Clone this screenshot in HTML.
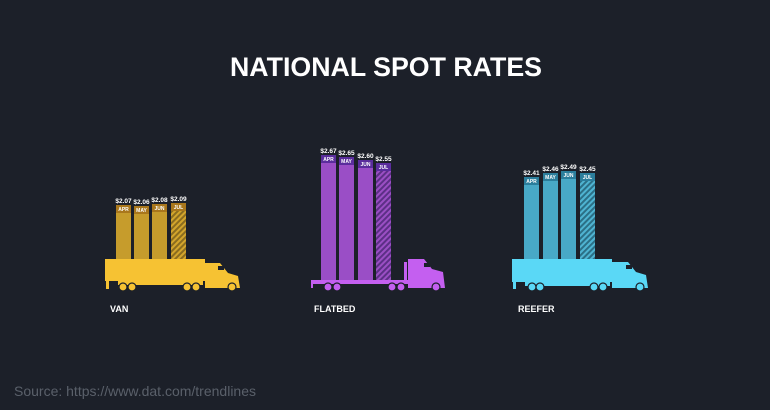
<!DOCTYPE html>
<html><head><meta charset="utf-8"><style>
body{margin:0;background:#1c2029;}
svg{display:block}
text{font-family:"Liberation Sans",sans-serif;}
</style></head><body>
<svg width="770" height="410" viewBox="0 0 770 410" xmlns="http://www.w3.org/2000/svg">
<defs>
<pattern id="hv" width="4" height="4" patternUnits="userSpaceOnUse" patternTransform="rotate(45)"><rect width="4" height="4" fill="#8a6c1f"/><rect width="2" height="4" fill="#d3a52c"/></pattern>
<pattern id="hf" width="4" height="4" patternUnits="userSpaceOnUse" patternTransform="rotate(45)"><rect width="4" height="4" fill="#5c2f86"/><rect width="2" height="4" fill="#9b4fc4"/></pattern>
<pattern id="hr" width="4" height="4" patternUnits="userSpaceOnUse" patternTransform="rotate(45)"><rect width="4" height="4" fill="#2b6f86"/><rect width="2" height="4" fill="#4fb4d2"/></pattern>
</defs>
<rect width="770" height="410" fill="#1c2029"/>
<text x="386" y="76" text-anchor="middle" fill="#fff" font-size="27" font-weight="bold" textLength="312" lengthAdjust="spacingAndGlyphs">NATIONAL SPOT RATES</text>

<!-- VAN -->
<g font-size="6.5" font-weight="bold" fill="#fff" text-anchor="middle">
<rect x="116" y="205" width="15" height="55" fill="#c69c2c"/><rect x="116" y="205" width="15" height="8" fill="#a9771c"/>
<rect x="134" y="206" width="15" height="54" fill="#c69c2c"/><rect x="134" y="206" width="15" height="8" fill="#a9771c"/>
<rect x="152" y="204" width="15" height="56" fill="#c69c2c"/><rect x="152" y="204" width="15" height="8" fill="#a9771c"/>
<rect x="171" y="203" width="15" height="57" fill="url(#hv)"/><rect x="171" y="203" width="15" height="8" fill="#a9771c"/>
<text x="123.5" y="203">$2.07</text><text x="141.5" y="204">$2.06</text><text x="159.5" y="202">$2.08</text><text x="178.5" y="201">$2.09</text>
<text x="123.5" y="211" font-size="5">APR</text><text x="141.5" y="212" font-size="5">MAY</text><text x="159.5" y="210" font-size="5">JUN</text><text x="178.5" y="209" font-size="5">JUL</text>
</g>
<g fill="#f6c233">
<rect x="105" y="259" width="100" height="22"/>
<rect x="106" y="281" width="3" height="8"/>
<path d="M205 263 L220 263 L228 273 L238 276 L240 288 L205 288 Z"/>
<rect x="118" y="281" width="85" height="4"/>
</g>
<rect x="218" y="266" width="6" height="4" fill="#1c2029"/>
<g fill="#f6c233" stroke="#1c2029" stroke-width="1.2">
<circle cx="123" cy="287" r="4"/><circle cx="132" cy="287" r="4"/><circle cx="187" cy="287" r="4"/><circle cx="196" cy="287" r="4"/><circle cx="232" cy="287" r="4"/>
</g>
<text x="110" y="312" fill="#fff" font-size="9" font-weight="bold">VAN</text>

<!-- FLATBED -->
<g font-size="6.5" font-weight="bold" fill="#fff" text-anchor="middle">
<rect x="321" y="155" width="15" height="125" fill="#9a4ec6"/><rect x="321" y="155" width="15" height="8" fill="#5a2d9c"/>
<rect x="339" y="157" width="15" height="123" fill="#9a4ec6"/><rect x="339" y="157" width="15" height="8" fill="#5a2d9c"/>
<rect x="358" y="160" width="15" height="120" fill="#9a4ec6"/><rect x="358" y="160" width="15" height="8" fill="#5a2d9c"/>
<rect x="376" y="163" width="15" height="117" fill="url(#hf)"/><rect x="376" y="163" width="15" height="8" fill="#5a2d9c"/>
<text x="328.5" y="153">$2.67</text><text x="346.5" y="155">$2.65</text><text x="365.5" y="158">$2.60</text><text x="383.5" y="161">$2.55</text>
<text x="328.5" y="161" font-size="5">APR</text><text x="346.5" y="163" font-size="5">MAY</text><text x="365.5" y="166" font-size="5">JUN</text><text x="383.5" y="169" font-size="5">JUL</text>
</g>
<g fill="#c45ff0">
<rect x="311" y="280" width="97" height="4"/>
<rect x="311" y="280" width="2" height="8"/>
<rect x="404" y="262" width="3" height="22"/>
<path d="M408 259 L424 259 L432 269 L443 272 L445 288 L408 288 Z"/>
</g>
<rect x="424" y="263" width="6" height="4" fill="#1c2029"/>
<g fill="#c45ff0" stroke="#1c2029" stroke-width="1.2">
<circle cx="328" cy="287" r="4"/><circle cx="337" cy="287" r="4"/><circle cx="392" cy="287" r="4"/><circle cx="401" cy="287" r="4"/><circle cx="436" cy="287" r="4"/>
</g>
<text x="314" y="312" fill="#fff" font-size="9" font-weight="bold">FLATBED</text>

<!-- REEFER -->
<g font-size="6.5" font-weight="bold" fill="#fff" text-anchor="middle">
<rect x="524" y="177" width="15" height="83" fill="#48a9c7"/><rect x="524" y="177" width="15" height="8" fill="#2b7e9c"/>
<rect x="543" y="173" width="15" height="87" fill="#48a9c7"/><rect x="543" y="173" width="15" height="8" fill="#2b7e9c"/>
<rect x="561" y="171" width="15" height="89" fill="#48a9c7"/><rect x="561" y="171" width="15" height="8" fill="#2b7e9c"/>
<rect x="580" y="173" width="15" height="87" fill="url(#hr)"/><rect x="580" y="173" width="15" height="8" fill="#2b7e9c"/>
<text x="531.5" y="175">$2.41</text><text x="550.5" y="171">$2.46</text><text x="568.5" y="169">$2.49</text><text x="587.5" y="171">$2.45</text>
<text x="531.5" y="183" font-size="5">APR</text><text x="550.5" y="179" font-size="5">MAY</text><text x="568.5" y="177" font-size="5">JUN</text><text x="587.5" y="179" font-size="5">JUL</text>
</g>
<g fill="#5ad8f6">
<rect x="512" y="259" width="100" height="23"/>
<rect x="513" y="282" width="3" height="7"/>
<rect x="525" y="282" width="85" height="4"/>
<path d="M612 262 L628 262 L636 272 L646 275 L648 288 L612 288 Z"/>
</g>
<rect x="626" y="265" width="6" height="4" fill="#1c2029"/>
<g fill="#5ad8f6" stroke="#1c2029" stroke-width="1.2">
<circle cx="532" cy="287" r="4"/><circle cx="540" cy="287" r="4"/><circle cx="594" cy="287" r="4"/><circle cx="603" cy="287" r="4"/><circle cx="640" cy="287" r="4"/>
</g>
<text x="518" y="312" fill="#fff" font-size="9" font-weight="bold">REEFER</text>

<text x="14" y="396" fill="#5a606a" font-size="14">Source: https://www.dat.com/trendlines</text>
</svg>
</body></html>
